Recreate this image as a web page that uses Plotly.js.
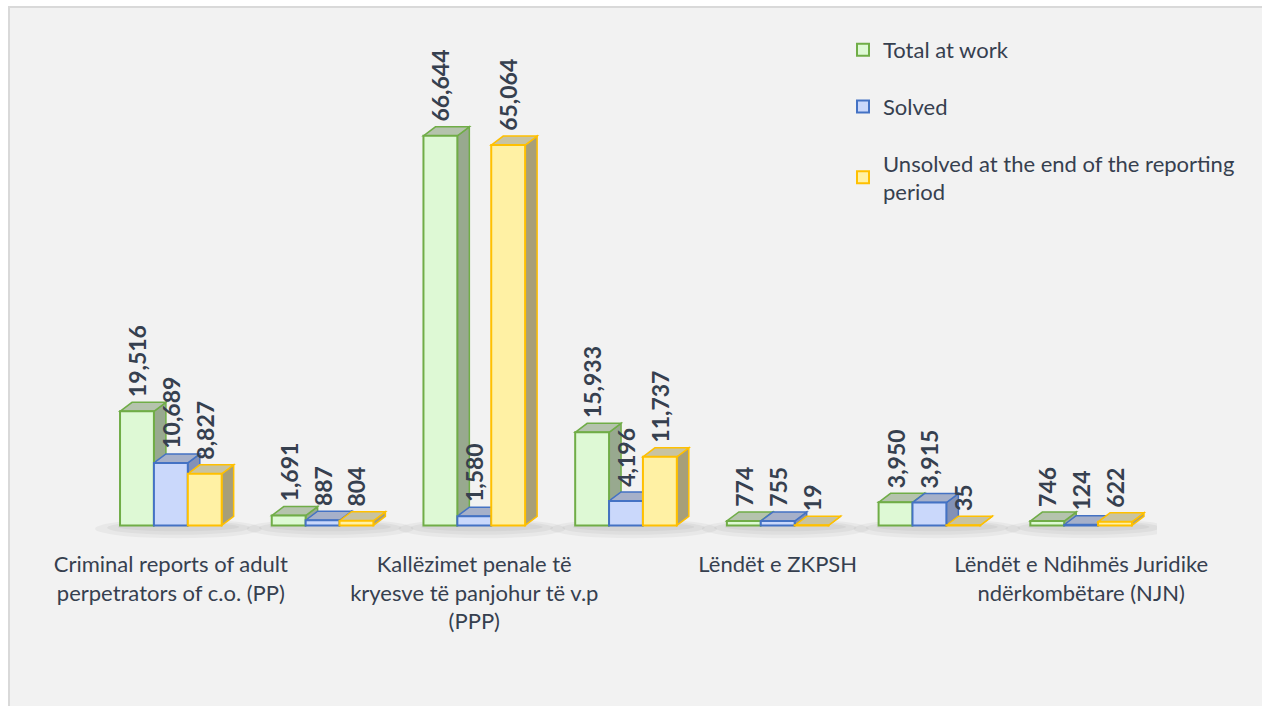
<!DOCTYPE html>
<html>
<head>
<meta charset="utf-8">
<script src="https://cdn.plot.ly/plotly-3.0.1.min.js"></script>
<style>
  html, body { margin: 0; padding: 0; background: #ffffff; overflow: hidden; }
  #chart {
    position: absolute; left: 8px; top: 6px;
    width: 1252px; height: 698px;
    border-left: 2px solid #d9d9d9; border-top: 2px solid #d9d9d9;
    background: #f2f2f2;
  }
</style>
</head>
<body>
<div id="chart"></div>
<script>
// category labels (Excel only shows every second one)
const labelPositions = [0, 2, 4, 6];
const labelTexts = [
  'Criminal reports of adult<br>perpetrators of c.o. (PP)',
  'Kallëzimet penale të<br>kryesve të panjohur të v.p<br>(PPP)',
  'Lëndët e ZKPSH',
  'Lëndët e Ndihmës Juridike<br>ndërkombëtare (NJN)'
];

const seriesNames = ['Total at work', 'Solved', 'Unsolved at the end of the reporting<br>period'];
const totalAtWork = [19516, 1691, 66644, 15933, 774, 3950, 746];
const solved      = [10689, 887, 1580, 4196, 755, 3915, 124];
const unsolved    = [8827, 804, 65064, 11737, 19, 35, 622];

const frontColors = ['#def9d5', '#cad8fb', '#fff1a4'];
const lineColors  = ['#70ad47', '#4472c4', '#ffc000'];
const sideColors  = ['#98a98f', '#8391b6', '#a79f79'];
const topColors   = ['#b5c3ad', '#a6b0c9', '#c8c3a1'];

const textColor = '#36404f';

// geometry
const W = 1252, H = 698;
const margin = { l: 85, r: 105, t: 38, b: 163, autoexpand: false };
const yMin = -3000, yMax = 82000;
const bargap = 0.33;

const plotW = W - margin.l - margin.r;
const plotH = H - margin.t - margin.b;
const nCat = totalAtWork.length;
const pxPerCat = plotW / nCat;
const pxPerUnit = plotH / (yMax - yMin);
const depthX = 12 / pxPerCat;   // 3d depth offset in data units
const depthY = 9 / pxPerUnit;

const allSeries = [totalAtWork, solved, unsolved];
const xIdx = totalAtWork.map((d, i) => i);

const traces = allSeries.map((vals, s) => ({
  type: 'bar',
  x: xIdx,
  y: vals,
  name: seriesNames[s],
  legendgroup: 'g' + s,
  marker: { color: frontColors[s], line: { color: lineColors[s], width: 2 } },
  texttemplate: '\u00a0\u00a0%{y:,}',
  textposition: 'outside',
  textangle: -90,
  constraintext: 'none',
  cliponaxis: false,
  textfont: { family: 'Lato', size: 23, weight: 'bold', color: textColor },
  hoverinfo: 'skip'
}));

// 3d faces + floor shadows, computed from the data
const shapes = [];
const groupW = 1 - bargap;
const bw = groupW / allSeries.length;

xIdx.forEach(i => {
  [[0.55, 2200], [0.47, 1600], [0.4, 1000]].forEach(([hw, hh]) => {
    shapes.push({
      type: 'circle', layer: 'below', xref: 'x', yref: 'y',
      x0: i - hw + 0.05, x1: i + hw + 0.05, y0: -hh, y1: hh * 0.5,
      fillcolor: 'rgba(0,0,0,0.04)', line: { width: 0 }
    });
  });
});

xIdx.forEach(i => {
  allSeries.forEach((vals, s) => {
    const v = vals[i];
    const xl = i - groupW / 2 + s * bw;
    const xr = xl + bw;
    shapes.push({
      type: 'path', layer: 'below', xref: 'x', yref: 'y',
      path: `M${xr},0 L${xr + depthX},${depthY} L${xr + depthX},${v + depthY} L${xr},${v} Z`,
      fillcolor: sideColors[s], line: { color: lineColors[s], width: 1.5 }
    });
    shapes.push({
      type: 'path', layer: 'below', xref: 'x', yref: 'y',
      path: `M${xl},${v} L${xl + depthX},${v + depthY} L${xr + depthX},${v + depthY} L${xr},${v} Z`,
      fillcolor: topColors[s], line: { color: lineColors[s], width: 1.5 }
    });
  });
});

const layout = {
  width: W, height: H,
  margin: margin,
  paper_bgcolor: '#f2f2f2',
  plot_bgcolor: 'rgba(0,0,0,0)',
  font: { family: 'Lato', size: 22, color: textColor },
  barmode: 'group',
  bargap: bargap,
  bargroupgap: 0,
  showlegend: true,
  legend: {
    xref: 'container', yref: 'container',
    x: 833 / W, y: 1 - 21 / H,
    xanchor: 'left', yanchor: 'top',
    bgcolor: 'rgba(0,0,0,0)',
    traceorder: 'grouped',
    tracegroupgap: 25,
    font: { family: 'Lato', size: 22, color: textColor }
  },
  xaxis: {
    range: [-0.5, nCat - 0.5],
    tickmode: 'array',
    tickvals: labelPositions,
    ticktext: labelTexts,
    tickangle: 0,
    automargin: false,
    showgrid: false, zeroline: false, showline: false,
    ticks: '', ticklabelstandoff: 6,
    tickfont: { family: 'Lato', size: 22, color: textColor },
    fixedrange: true
  },
  yaxis: {
    range: [yMin, yMax],
    visible: false,
    showgrid: false, zeroline: false,
    fixedrange: true
  },
  shapes: shapes
};

Plotly.newPlot('chart', traces, layout, { displayModeBar: false, staticPlot: true });
</script>
</body>
</html>
